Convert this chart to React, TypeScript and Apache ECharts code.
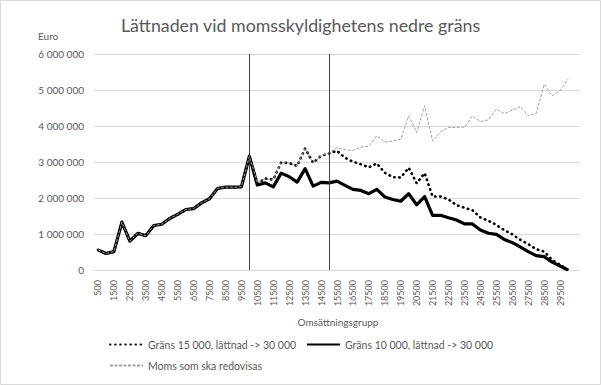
import React, { useEffect, useRef } from "react";
import * as echarts from "echarts";

// 60 turnover groups plus one trailing empty band (as in the reference's category axis)
const categories = [
  "500", "1000", "1500", "2000", "2500", "3000", "3500", "4000", "4500", "5000",
  "5500", "6000", "6500", "7000", "7500", "8000", "8500", "9000", "9500", "10000",
  "10500", "11000", "11500", "12000", "12500", "13000", "13500", "14000", "14500", "15000",
  "15500", "16000", "16500", "17000", "17500", "18000", "18500", "19000", "19500", "20000",
  "20500", "21000", "21500", "22000", "22500", "23000", "23500", "24000", "24500", "25000",
  "25500", "26000", "26500", "27000", "27500", "28000", "28500", "29000", "29500", "30000",
  "",
];

const grans15000 = [
  560000, 460000, 510000, 1330000, 800000, 1020000, 955000, 1235000, 1270000, 1430000,
  1545000, 1680000, 1705000, 1865000, 1980000, 2265000, 2300000, 2300000, 2310000, 3160000,
  2410000, 2540000, 2510000, 2985000, 2970000, 2890000, 3375000, 2980000, 3170000, 3240000,
  3310000, 3120000, 3010000, 2940000, 2850000, 2960000, 2700000, 2580000, 2570000, 2840000,
  2410000, 2690000, 2040000, 2040000, 1960000, 1800000, 1730000, 1660000, 1460000, 1370000,
  1250000, 1110000, 990000, 840000, 720000, 580000, 510000, 280000, 140000, 0,
];

const grans10000 = [
  560000, 460000, 510000, 1330000, 800000, 1020000, 955000, 1235000, 1270000, 1430000,
  1545000, 1680000, 1705000, 1865000, 1980000, 2265000, 2300000, 2300000, 2310000, 3160000,
  2360000, 2420000, 2310000, 2690000, 2590000, 2440000, 2815000, 2330000, 2435000, 2420000,
  2470000, 2350000, 2240000, 2210000, 2120000, 2240000, 2030000, 1960000, 1910000, 2120000,
  1810000, 2040000, 1520000, 1520000, 1450000, 1390000, 1280000, 1280000, 1110000, 1020000,
  990000, 850000, 760000, 640000, 510000, 400000, 370000, 220000, 110000, 0,
];

const momsTotal = [
  560000, 460000, 510000, 1330000, 800000, 1020000, 955000, 1235000, 1270000, 1430000,
  1545000, 1680000, 1705000, 1865000, 1980000, 2265000, 2300000, 2300000, 2310000, 3160000,
  2430000, 2540000, 2510000, 2985000, 2970000, 2890000, 3375000, 2980000, 3170000, 3260000,
  3400000, 3340000, 3320000, 3410000, 3440000, 3730000, 3555000, 3580000, 3630000, 4280000,
  3820000, 4560000, 3580000, 3840000, 3960000, 3960000, 3970000, 4280000, 4120000, 4170000,
  4470000, 4340000, 4440000, 4540000, 4290000, 4350000, 5160000, 4840000, 4980000, 5300000,
];

const thresholds = ["10000", "15000"];

const seriesNames = [
  "Gräns 15 000, lättnad -> 30 000",
  "Gräns 10 000, lättnad -> 30 000",
  "Moms som ska redovisas",
];

const FONT = "Lato, 'Open Sans', sans-serif";
const TXT = "#595959";

function fmt(v: number): string {
  return String(Math.round(v)).replace(/\B(?=(\d{3})+(?!\d))/g, " ");
}

export default function App() {
  const ref = useRef<HTMLDivElement>(null);
  useEffect(() => {
    document.body.style.margin = "0";
    const chart = echarts.init(ref.current!, null, { renderer: "svg" });
    const legendBase = {
      padding: 0,
      itemWidth: 33,
      itemHeight: 12,
      itemGap: 5,
      itemStyle: { opacity: 0 },
      textStyle: { fontFamily: FONT, fontSize: 10.5, color: TXT },
      selectedMode: false,
    };
    chart.setOption({
      animation: false,
      backgroundColor: "#ffffff",
      title: {
        text: "Lättnaden vid momsskyldighetens nedre gräns",
        left: "center",
        top: 11,
        textStyle: { fontFamily: FONT, fontSize: 17.8, fontWeight: "normal", color: TXT },
      },
      graphic: [
        {
          type: "rect",
          shape: { x: 0.5, y: 0.5, width: 600, height: 384 },
          style: { fill: "none", stroke: "#d9d9d9", lineWidth: 1 },
          silent: true,
        },
        {
          type: "text",
          left: 38,
          top: 31,
          style: { text: "Euro", fontFamily: FONT, fontSize: 10, fill: TXT },
        },
        {
          type: "text",
          x: 338,
          y: 322,
          style: {
            text: "Omsättningsgrupp",
            fontFamily: FONT,
            fontSize: 10,
            fill: TXT,
            align: "center",
            verticalAlign: "middle",
          },
        },
      ],
      legend: [
        { ...legendBase, data: [seriesNames[0]], left: 109, top: 339 },
        { ...legendBase, data: [seriesNames[1]], left: 306, top: 339 },
        { ...legendBase, data: [seriesNames[2]], left: 109, top: 360 },
      ],
      grid: { left: 94, right: 21, top: 54, bottom: 115, containLabel: false },
      xAxis: {
        type: "category",
        data: categories,
        boundaryGap: true,
        axisLine: { show: true, lineStyle: { color: "#d9d9d9", width: 1 } },
        axisTick: { show: false },
        axisLabel: {
          interval: 1,
          rotate: 90,
          margin: 10,
          fontFamily: FONT,
          fontSize: 9,
          color: TXT,
        },
        splitLine: { show: false },
      },
      yAxis: {
        type: "value",
        min: 0,
        max: 6000000,
        interval: 1000000,
        axisLine: { show: false },
        axisTick: { show: false },
        axisLabel: {
          margin: 10,
          fontFamily: FONT,
          fontSize: 10,
          color: TXT,
          formatter: (v: number) => fmt(v),
        },
        splitLine: { show: true, lineStyle: { color: "#d9d9d9", width: 1 } },
      },
      series: [
        {
          name: seriesNames[0],
          type: "line",
          data: grans15000,
          symbol: "none",
          lineStyle: { color: "#000000", width: 2.6, type: [0.5, 4.6], cap: "round", join: "round" },
          itemStyle: { color: "#000000" },
          z: 2,
        },
        {
          name: seriesNames[1],
          type: "line",
          data: grans10000,
          symbol: "none",
          lineStyle: { color: "#000000", width: 3.2, type: "solid", join: "round" },
          itemStyle: { color: "#000000" },
          z: 3,
          markLine: {
            silent: true,
            symbol: ["none", "none"],
            label: { show: false },
            lineStyle: { color: "#404040", width: 1, type: "solid" },
            data: thresholds.map((t) => ({ xAxis: t })),
          },
        },
        {
          name: seriesNames[2],
          type: "line",
          data: momsTotal,
          symbol: "none",
          lineStyle: { color: "#a0a0a0", width: 1, type: [3, 1.5] },
          itemStyle: { color: "#a0a0a0" },
          z: 4,
        },
      ],
    });
    return () => chart.dispose();
  }, []);
  return <div ref={ref} style={{ width: 601, height: 385 }} />;
}
